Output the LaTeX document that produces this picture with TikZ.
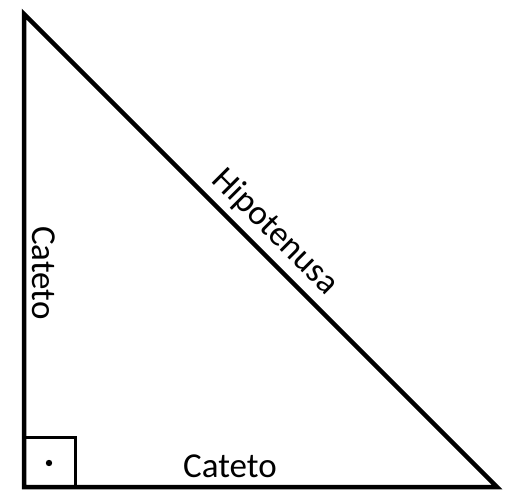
\documentclass[tikz,border=0pt]{standalone}
\usepackage{fontspec}
\setmainfont{Carlito}
\begin{document}
\begin{tikzpicture}[x=1pt,y=-1pt,
  edge/.style={line width=4.5pt,line join=miter},
  lbl/.style={font=\fontsize{35}{35}\selectfont,inner sep=0pt}]
\useasboundingbox (0,0) rectangle (530,503);
\coordinate (A) at (24,14);
\coordinate (B) at (24,487);
\coordinate (C) at (497,487);
\draw[edge] (A) -- (B) -- (C) -- cycle;
\draw[line width=3pt] (24,437) -- (75,437) -- (75,487);
\fill (49,463) circle (3.2);
\node[lbl,rotate=-90] (l1) at (44,273) {Cateto};
\node[lbl] (l2) at (230,466) {Cateto};
\node[lbl,rotate=-45] (h) at (275,232) {Hipotenusa};
\end{tikzpicture}
\end{document}
